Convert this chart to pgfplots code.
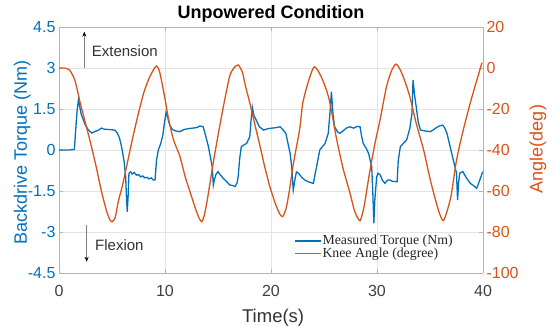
\documentclass[border=0pt]{standalone}
\usepackage{fontspec}
\setmainfont{Liberation Sans}
\newfontfamily\legfont{Liberation Serif}
\usepackage{pgfplots}
\pgfplotsset{compat=1.18}
\usetikzlibrary{arrows.meta}
\definecolor{mblue}{RGB}{0,114,189}
\definecolor{morange}{RGB}{217,83,25}
\definecolor{gridc}{RGB}{228,228,228}
\definecolor{boxc}{RGB}{180,180,180}
\definecolor{anntext}{RGB}{50,50,50}

\begin{document}
\begin{tikzpicture}
\begin{axis}[name=main, scale only axis, width=424pt, height=246pt,
  xmin=0, xmax=40, ymin=-4.5, ymax=4.5,
  xtick={0,10,20,30,40}, xticklabels={0,10,20,30,40},
  ytick={-4.5,-3,-1.5,0,1.5,3,4.5},
  yticklabels={-4.5,-3,-1.5,0,1.5,3,4.5},
  axis y line*=left,
  grid=major, major grid style={gridc, line width=0.6pt},
  axis line style={boxc, line width=0.6pt},
  tick style={boxc, line width=0.6pt}, tick align=inside, major tick length=4pt,
  xticklabel style={font=\fontsize{16}{16}\selectfont, text=black!75, anchor=base, yshift=-24pt},
  yticklabel style={font=\fontsize{16}{16}\selectfont, text=mblue},
  ylabel={Backdrive Torque (Nm)},
  ylabel style={font=\fontsize{18}{18}\selectfont, text=mblue, at={(axis description cs:-0.087,0.49)}, anchor=center},
  xlabel={Time(s)},
  xlabel style={font=\fontsize{18.5}{18.5}\selectfont, text=black!80, at={(axis description cs:0.505,0)}, anchor=base, yshift=-50pt},
  clip=false,
]
\addplot[mblue, line width=1.3pt] coordinates {
(0,0.0) (0.5,0.0) (1.0,0.0) (1.45,0.02) (1.55,0.6) (1.7,1.4) (1.85,1.9) (1.95,1.6)
(2.1,1.3) (2.3,1.1) (2.5,0.9) (2.77,0.73) (3.1,0.62) (3.4,0.68) (3.7,0.72) (4.0,0.8)
(4.3,0.76) (4.7,0.75) (5.0,0.74) (5.3,0.72) (5.5,0.62) (5.7,0.45) (5.9,0.12) (6.05,-0.2)
(6.15,-0.45) (6.29,-0.98) (6.37,-1.8) (6.44,-2.26) (6.52,-1.7) (6.6,-0.85) (6.75,-0.8)
(6.9,-0.88) (7.1,-0.82) (7.3,-0.92) (7.5,-0.9) (7.7,-0.98) (7.9,-0.95) (8.1,-1.02)
(8.3,-1.0) (8.5,-1.06) (8.7,-1.02) (8.9,-1.1) (9.06,-1.1) (9.2,-0.37) (9.37,0.0)
(9.6,0.24) (9.8,0.55) (9.95,1.0) (10.1,1.38) (10.25,1.2) (10.45,0.9) (10.7,0.75)
(11.0,0.7) (11.4,0.67) (11.8,0.75) (12.2,0.78) (12.6,0.8) (13.0,0.82) (13.3,0.88)
(13.6,0.85) (13.85,0.5) (14.1,0.12) (14.3,-0.3) (14.45,-0.6) (14.56,-1.28) (14.65,-1.1)
(14.8,-0.9) (15.0,-0.79) (15.2,-0.9) (15.5,-1.04) (15.8,-1.15) (16.1,-1.28) (16.4,-1.3)
(16.6,-1.34) (16.8,-1.2) (16.9,-0.98) (17.05,-0.3) (17.2,0.12) (17.5,0.2) (17.7,0.24)
(18.0,0.49) (18.1,1.0) (18.24,1.56) (18.4,1.25) (18.6,1.1) (18.9,0.85) (19.3,0.73)
(19.7,0.78) (20.1,0.8) (20.5,0.82) (20.85,0.85) (21.1,0.75) (21.4,0.61) (21.6,0.25)
(21.8,-0.12) (21.95,-0.6) (22.1,-1.46) (22.25,-1.1) (22.4,-0.8) (22.6,-0.85) (22.9,-1.0)
(23.2,-1.1) (23.5,-1.16) (23.8,-1.2) (24.0,-1.22) (24.15,-0.9) (24.3,-0.61) (24.6,0.0)
(25.1,0.24) (25.4,0.61) (25.55,1.3) (25.7,2.13) (25.85,1.3) (26.0,0.85) (26.3,0.65)
(26.5,0.61) (26.8,0.7) (27.1,0.8) (27.45,0.85) (27.8,0.8) (28.1,0.86) (28.4,0.85)
(28.55,0.5) (28.7,0.24) (29.0,0.05) (29.2,-0.12) (29.5,-0.61) (29.6,-1.5) (29.7,-2.68)
(29.8,-1.8) (29.97,-0.98) (30.1,-0.85) (30.3,-0.91) (30.5,-1.1) (30.75,-1.22) (31.0,-1.1)
(31.2,-1.1) (31.5,-1.15) (31.9,-1.16) (32.0,-0.4) (32.2,0.12) (32.5,0.25) (32.8,0.37)
(33.1,0.8) (33.3,1.34) (33.4,2.56) (33.55,2.0) (33.7,1.58) (33.9,1.0) (34.1,0.73)
(34.5,0.7) (35.0,0.67) (35.3,0.73) (35.6,0.82) (35.9,0.88) (36.2,0.91) (36.4,0.8)
(36.6,0.61) (36.9,0.12) (37.2,-0.37) (37.5,-0.85) (37.6,-1.83) (37.7,-1.2) (37.8,-0.85)
(38.1,-0.79) (38.4,-1.0) (38.8,-1.22) (39.1,-1.3) (39.4,-1.4) (39.7,-1.1) (39.97,-0.79)
};
\draw[boxc!70!black, line width=0.7pt, -{Stealth[length=5pt,width=4pt,black]}] (axis cs:2.39,2.99) -- (axis cs:2.39,4.33);
\draw[boxc!70!black, line width=0.7pt, -{Stealth[length=5pt,width=4pt,black]}] (axis cs:2.61,-2.74) -- (axis cs:2.61,-4.09);
\node[anchor=west, inner sep=0pt, text=anntext, font=\fontsize{15}{15}\selectfont] at (axis cs:3.08,3.60) {Extension};
\node[anchor=west, inner sep=0pt, text=anntext, font=\fontsize{15}{15}\selectfont] at (axis cs:3.40,-3.48) {Flexion};
\node[anchor=base, inner sep=0pt, font=\bfseries\fontsize{18}{18}\selectfont] at (axis description cs:0.5,1) [yshift=8pt] {Unpowered Condition};
\end{axis}
\begin{axis}[scale only axis, width=424pt, height=246pt,
  xmin=0, xmax=40, ymin=-100, ymax=20,
  axis x line=none, axis y line*=right,
  ytick={-100,-80,-60,-40,-20,0,20},
  yticklabels={-100,-80,-60,-40,-20,0,20},
  axis line style={boxc, line width=0.6pt},
  tick style={boxc, line width=0.6pt}, tick align=inside, major tick length=4pt,
  yticklabel style={font=\fontsize{16}{16}\selectfont, text=morange},
  ylabel={Angle(deg)},
  ylabel style={font=\fontsize{18}{18}\selectfont, text=morange, at={(axis description cs:1.1297,0.504)}, anchor=center},
  clip=false,
]
\addplot[morange, line width=1.3pt, smooth, tension=0.4] coordinates {
(0,0) (0.5,0) (1.0,-1) (1.5,-6) (2.0,-17) (2.5,-27) (3.0,-37) (3.5,-48) (4.0,-60)
(4.5,-70) (4.8,-74) (5.0,-75) (5.3,-73) (5.6,-65) (6.0,-57) (6.5,-45) (7.0,-33)
(7.5,-22) (8.0,-12) (8.5,-5) (8.9,-1) (9.2,1) (9.5,-2) (10.0,-15) (10.3,-24)
(10.8,-35) (11.4,-43) (11.9,-53) (12.4,-61) (12.9,-69) (13.2,-73) (13.46,-75)
(13.7,-72) (14.0,-64) (14.56,-46) (15.0,-33) (15.5,-19) (16.1,-4) (16.5,0) (16.9,1.5)
(17.3,-2) (17.6,-9) (18.0,-17) (18.5,-28) (18.96,-38) (19.4,-48) (19.9,-58) (20.4,-66)
(20.8,-71) (21.1,-72.5) (21.4,-69) (21.7,-61) (22.1,-47) (22.7,-30) (23.0,-17)
(23.5,-7) (23.9,-1) (24.1,0.6) (24.4,-1) (24.8,-5) (25.25,-11) (25.6,-18) (26.2,-35)
(26.8,-49) (27.45,-61) (27.9,-70) (28.4,-74.5) (28.8,-67) (29.3,-51) (29.8,-37)
(30.3,-25) (30.9,-9) (31.4,-1) (31.8,1.9) (32.2,-1) (32.6,-6) (33.1,-14) (33.7,-27)
(34.4,-40) (35.0,-54) (35.5,-64) (35.9,-71) (36.25,-74.5) (36.6,-70) (37.0,-62)
(37.5,-45) (38.1,-31) (38.8,-17) (39.3,-8) (39.7,-1) (39.9,2.6)
};
\draw[mblue, line width=1.3pt] (axis description cs:0.557,0.13) -- (axis description cs:0.619,0.13);
\draw[morange, line width=1.3pt] (axis description cs:0.557,0.078) -- (axis description cs:0.619,0.078);
\node[anchor=west, inner sep=0pt, text=black!85, font=\legfont\fontsize{13.8}{13.8}\selectfont] at (axis description cs:0.621,0.13) {Measured Torque (Nm)};
\node[anchor=west, inner sep=0pt, text=black!85, font=\legfont\fontsize{13.8}{13.8}\selectfont] at (axis description cs:0.621,0.078) {Knee Angle (degree)};
\end{axis}
\pgfresetboundingbox
\path ([shift={(-59pt,-53pt)}]main.south west) rectangle ([shift={(74pt,27pt)}]main.north east);
\end{tikzpicture}
\end{document}
